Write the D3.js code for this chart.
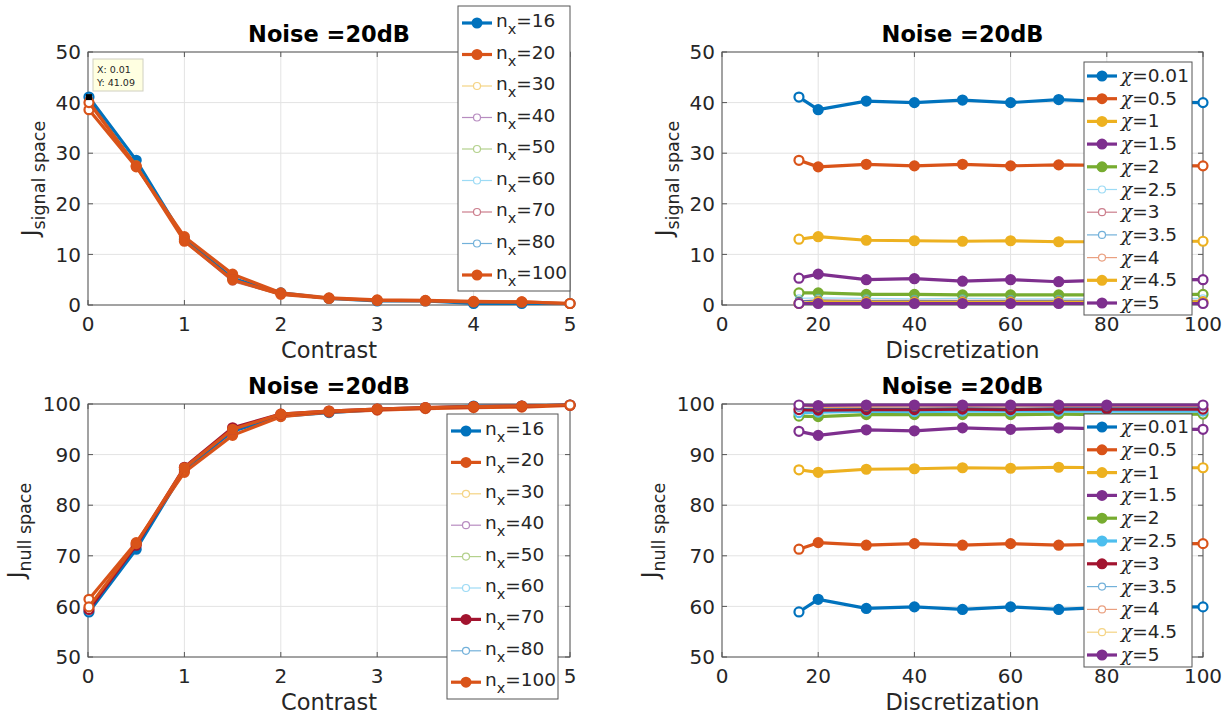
<!DOCTYPE html>
<html>
<head>
<meta charset="utf-8">
<title>Noise =20dB</title>
<style>
  body { margin: 0; background: #fff; }
  svg text { font-family: "DejaVu Sans", sans-serif; fill: #262626; }
</style>
</head>
<body>
<div id="chart"></div>
<script src="https://d3js.org/d3.v7.min.js"></script>
<script>
// ---- data ----
var nxValues  = [16, 20, 30, 40, 50, 60, 70, 80, 100];
var chiValues = [0.01, 0.5, 1, 1.5, 2, 2.5, 3, 3.5, 4, 4.5, 5];

// rows: chi, columns: nx
var signalSpace = [
  [41.09, 38.6, 40.3, 40.0, 40.5, 40.0, 40.6, 40.2, 40.0],
  [28.6, 27.3, 27.8, 27.5, 27.8, 27.5, 27.7, 27.6, 27.5],
  [13.0, 13.5, 12.8, 12.7, 12.6, 12.7, 12.5, 12.5, 12.6],
  [5.3, 6.1, 5.0, 5.2, 4.7, 5.0, 4.6, 4.9, 5.0],
  [2.4, 2.4, 2.1, 2.1, 2.0, 2.0, 2.0, 2.0, 2.1],
  [1.3, 1.4, 1.3, 1.2, 1.3, 1.2, 1.2, 1.2, 1.3],
  [0.8, 1.0, 0.9, 0.9, 0.9, 0.9, 0.9, 0.9, 0.9],
  [0.8, 0.9, 0.8, 0.8, 0.8, 0.8, 0.8, 0.8, 0.8],
  [0.3, 0.7, 0.6, 0.6, 0.6, 0.6, 0.6, 0.6, 0.6],
  [0.3, 0.6, 0.5, 0.5, 0.5, 0.5, 0.5, 0.5, 0.6],
  [0.3, 0.3, 0.3, 0.3, 0.3, 0.3, 0.3, 0.3, 0.3]
];
var nullSpace = [
  [58.9, 61.4, 59.6, 59.9, 59.4, 59.9, 59.4, 59.8, 59.9],
  [71.3, 72.6, 72.1, 72.4, 72.1, 72.4, 72.1, 72.3, 72.4],
  [87.0, 86.5, 87.1, 87.2, 87.4, 87.3, 87.5, 87.4, 87.4],
  [94.6, 93.8, 94.9, 94.7, 95.3, 95.0, 95.3, 95.1, 95.0],
  [97.6, 97.5, 97.9, 97.9, 97.9, 97.9, 98.0, 97.9, 98.0],
  [98.3, 98.4, 98.6, 98.5, 98.6, 98.6, 98.6, 98.6, 98.6],
  [98.9, 98.8, 98.9, 98.9, 99.0, 98.9, 99.0, 99.0, 99.0],
  [99.2, 99.1, 99.2, 99.2, 99.3, 99.2, 99.3, 99.3, 99.3],
  [99.6, 99.3, 99.4, 99.4, 99.5, 99.4, 99.5, 99.5, 99.5],
  [99.6, 99.4, 99.5, 99.6, 99.6, 99.6, 99.6, 99.6, 99.6],
  [99.8, 99.7, 99.8, 99.8, 99.8, 99.8, 99.8, 99.8, 99.8]
];

// which series are drawn bold in each panel
var thickSignalNx  = [1, 1, 0, 0, 0, 0, 0, 0, 1];
var thickNullNx    = [1, 1, 0, 0, 0, 0, 1, 0, 1];
var thickSignalChi = [1, 1, 1, 1, 1, 0, 0, 0, 0, 1, 1];
var thickNullChi   = [1, 1, 1, 1, 1, 1, 1, 0, 0, 0, 1];

var contrastTicks = [0, 1, 2, 3, 4, 5];
var discTicks     = [0, 20, 40, 60, 80, 100];
var signalTicks   = [0, 10, 20, 30, 40, 50];
var nullTicks     = [50, 60, 70, 80, 90, 100];

var matlab = ["#0072BD", "#D95319", "#EDB120", "#7E2F8E", "#77AC30", "#4DBEEE", "#A2142F"];

var svg = d3.select("#chart").append("svg")
    .attr("width", 1229)
    .attr("height", 720);

function column(m, j) { return m.map(function(r) { return r[j]; }); }

function drawPanel(p) {
  var g = svg.append("g");
  var x = d3.scaleLinear().domain(p.xDomain).range([p.left, p.right]);
  var y = d3.scaleLinear().domain(p.yDomain).range([p.bottom, p.top]);

  // grid
  g.selectAll(".gx").data(p.xTicks).enter().append("line")
    .attr("x1", d => x(d)).attr("x2", d => x(d))
    .attr("y1", p.top).attr("y2", p.bottom)
    .attr("stroke", "#e3e3e3");
  g.selectAll(".gy").data(p.yTicks).enter().append("line")
    .attr("y1", d => y(d)).attr("y2", d => y(d))
    .attr("x1", p.left).attr("x2", p.right)
    .attr("stroke", "#e3e3e3");

  // box + inner ticks
  g.append("rect")
    .attr("x", p.left).attr("y", p.top)
    .attr("width", p.right - p.left).attr("height", p.bottom - p.top)
    .attr("fill", "none").attr("stroke", "#555");
  p.xTicks.forEach(function(t) {
    g.append("line").attr("x1", x(t)).attr("x2", x(t)).attr("y1", p.bottom).attr("y2", p.bottom - 5).attr("stroke", "#555");
    g.append("line").attr("x1", x(t)).attr("x2", x(t)).attr("y1", p.top).attr("y2", p.top + 5).attr("stroke", "#555");
  });
  p.yTicks.forEach(function(t) {
    g.append("line").attr("y1", y(t)).attr("y2", y(t)).attr("x1", p.left).attr("x2", p.left + 5).attr("stroke", "#555");
    g.append("line").attr("y1", y(t)).attr("y2", y(t)).attr("x1", p.right).attr("x2", p.right - 5).attr("stroke", "#555");
  });

  // tick labels
  g.selectAll(".tx").data(p.xTicks).enter().append("text")
    .attr("x", d => x(d)).attr("y", p.bottom + 26)
    .attr("text-anchor", "middle").style("font-size", "20px")
    .text(d => d);
  g.selectAll(".ty").data(p.yTicks).enter().append("text")
    .attr("x", p.left - 7).attr("y", d => y(d)).attr("dy", "0.36em")
    .attr("text-anchor", "end").style("font-size", "20px")
    .text(d => d);

  // title and labels
  g.append("text")
    .attr("x", (p.left + p.right) / 2).attr("y", p.top - 10)
    .attr("text-anchor", "middle")
    .style("font-size", "22.5px").style("font-weight", "bold").style("fill", "#000")
    .text("Noise =20dB");
  g.append("text")
    .attr("x", (p.left + p.right) / 2).attr("y", p.bottom + 53)
    .attr("text-anchor", "middle").style("font-size", "22.5px")
    .text(p.xLabel);
  var yl = g.append("text")
    .attr("transform", "translate(" + (p.left - p.yLabelOff) + "," + ((p.top + p.bottom) / 2) + ") rotate(-90)")
    .attr("text-anchor", "middle").style("font-size", "22.5px");
  yl.append("tspan").text("J");
  yl.append("tspan").attr("dy", 7).style("font-size", "17.5px").text(p.ySub);

  // series
  var line = d3.line().x(d => x(d[0])).y(d => y(d[1]));
  p.series.forEach(function(s) {
    var pts = s.xs.map(function(v, i) { return [v, s.values[i]]; });
    var sg = g.append("g").attr("opacity", s.thick ? 1 : 0.55);
    sg.append("path").datum(pts)
      .attr("d", line).attr("fill", "none")
      .attr("stroke", s.color).attr("stroke-width", s.thick ? 3.2 : 1.2)
      .attr("stroke-linejoin", "round");
    sg.selectAll("circle").data(pts).enter().append("circle")
      .attr("cx", d => x(d[0])).attr("cy", d => y(d[1]))
      .attr("r", s.thick ? 4.5 : 3.5)
      .attr("fill", function(d, i) { return (!s.thick || i === 0 || i === pts.length - 1) ? "#fff" : s.color; })
      .attr("stroke", s.color).attr("stroke-width", s.thick ? 2.2 : 1.2);
  });

  // legend
  var L = p.legend;
  var lg = g.append("g");
  lg.append("rect")
    .attr("x", L.x0).attr("y", L.y0).attr("width", L.x1 - L.x0).attr("height", L.y1 - L.y0)
    .attr("fill", "#fff").attr("stroke", "#555");
  p.series.forEach(function(s, i) {
    var ly = L.first + i * L.step;
    var e = lg.append("g").attr("opacity", s.thick ? 1 : 0.55);
    e.append("line").attr("x1", L.lx).attr("x2", L.lx + 30).attr("y1", ly).attr("y2", ly)
      .attr("stroke", s.color).attr("stroke-width", s.thick ? 3.2 : 1.2);
    e.append("circle").attr("cx", L.lx + 15).attr("cy", ly).attr("r", s.thick ? 4.5 : 3.5)
      .attr("fill", s.thick ? s.color : "#fff").attr("stroke", s.color).attr("stroke-width", s.thick ? 2 : 1.2);
    var t = lg.append("text").attr("x", L.lx + 34).attr("y", ly + L.base).style("font-size", "18.5px");
    if (L.kind === "nx") {
      t.append("tspan").text("n");
      t.append("tspan").attr("dy", 7).style("font-size", "14.5px").text("x");
      t.append("tspan").attr("dy", -7).text("=" + s.name);
    } else {
      t.append("tspan").style("font-family", "'DejaVu Serif', serif").style("font-style", "italic").text("\u03C7");
      t.append("tspan").text("=" + s.name);
    }
  });
  return { x: x, y: y, g: g };
}

function nxSeries(m, thick) {
  return nxValues.map(function(n, j) {
    return { name: n, xs: chiValues, values: column(m, j), thick: thick[j], color: matlab[j % 7] };
  });
}
function chiSeries(m, thick) {
  return chiValues.map(function(c, i) {
    return { name: c, xs: nxValues, values: m[i], thick: thick[i], color: matlab[i % 7] };
  });
}

var tl = drawPanel({
  left: 88, right: 570, top: 52, bottom: 305,
  xDomain: [0, 5], xTicks: contrastTicks, yDomain: [0, 50], yTicks: signalTicks,
  xLabel: "Contrast", ySub: "signal space", yLabelOff: 50,
  series: nxSeries(signalSpace, thickSignalNx),
  legend: { kind: "nx", x0: 458, x1: 570, y0: 6, y1: 291, first: 23, step: 31.5, lx: 462, base: 4 }
});

// data tip
var tipX = tl.x(0.01), tipY = tl.y(41.09);
tl.g.append("rect").attr("x", tipX - 3).attr("y", tipY - 3).attr("width", 6).attr("height", 6).attr("fill", "#000");
tl.g.append("rect").attr("x", 93).attr("y", 59).attr("width", 50).attr("height", 32)
  .attr("fill", "#ffffe1").attr("stroke", "#d0d0c0");
tl.g.append("text").attr("x", 97).attr("y", 73).style("font-size", "9.5px").text("X: 0.01");
tl.g.append("text").attr("x", 97).attr("y", 86).style("font-size", "9.5px").text("Y: 41.09");

drawPanel({
  left: 722, right: 1203, top: 52, bottom: 305,
  xDomain: [0, 100], xTicks: discTicks, yDomain: [0, 50], yTicks: signalTicks,
  xLabel: "Discretization", ySub: "signal space", yLabelOff: 50,
  series: chiSeries(signalSpace, thickSignalChi),
  legend: { kind: "chi", x0: 1084, x1: 1192, y0: 62, y1: 315, first: 76, step: 22.7, lx: 1087, base: 6 }
});

drawPanel({
  left: 88, right: 570, top: 404, bottom: 657,
  xDomain: [0, 5], xTicks: contrastTicks, yDomain: [50, 100], yTicks: nullTicks,
  xLabel: "Contrast", ySub: "null space", yLabelOff: 64,
  series: nxSeries(nullSpace, thickNullNx),
  legend: { kind: "nx", x0: 447, x1: 558, y0: 414, y1: 699, first: 431, step: 31.4, lx: 451, base: 4 }
});

drawPanel({
  left: 722, right: 1203, top: 404, bottom: 657,
  xDomain: [0, 100], xTicks: discTicks, yDomain: [50, 100], yTicks: nullTicks,
  xLabel: "Discretization", ySub: "null space", yLabelOff: 64,
  series: chiSeries(nullSpace, thickNullChi),
  legend: { kind: "chi", x0: 1084, x1: 1192, y0: 414, y1: 667, first: 427, step: 22.8, lx: 1087, base: 6 }
});
</script>
</body>
</html>
